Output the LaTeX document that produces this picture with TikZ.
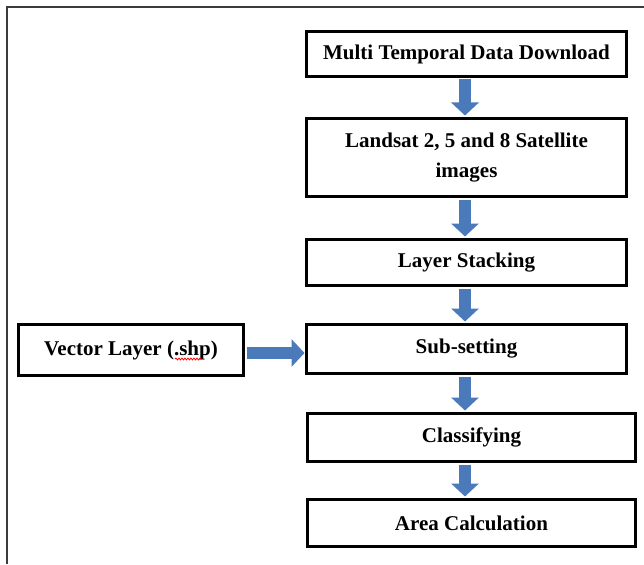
\documentclass[tikz,border=0pt]{standalone}
\usepackage{fontspec}
\setmainfont{Liberation Serif}
\usetikzlibrary{arrows.meta,decorations.pathmorphing}
\definecolor{arrowblue}{RGB}{74,122,186}
\definecolor{framegray}{RGB}{60,60,60}
\tikzset{
  stepbox/.style={draw=black, line width=3.8pt, fill=white, outer sep=0pt,
    inner sep=2pt, align=center, font=\fontsize{21pt}{30pt}\selectfont\bfseries},
  flowarrow/.style={draw=arrowblue, line width=12pt,
    -{Triangle[width=27pt,length=13pt]}},
}
\begin{document}
\begin{tikzpicture}[x=1pt,y=-1pt]
\useasboundingbox (0,0) rectangle (644,564);
\fill[white] (0,0) rectangle (644,564);
\draw[framegray, line width=1.4pt] (7,564) -- (7,7) -- (644,7);

\node[stepbox, minimum width=320pt, minimum height=45pt] (b1) at (466.5,54) {Multi Temporal Data Download};
\node[stepbox, minimum width=320pt, minimum height=78pt] (b2) at (466.5,157.5) {Landsat 2, 5 and 8 Satellite\\images};
\node[stepbox, minimum width=320pt, minimum height=46pt] (b3) at (466.5,262.5) {Layer Stacking};
\node[stepbox, minimum width=320pt, minimum height=49pt] (b4) at (466.5,349) {Sub-setting};
\node[stepbox, minimum width=328pt, minimum height=48pt] (b5) at (471.5,437.5) {Classifying};
\node[stepbox, minimum width=328pt, minimum height=47pt] (b6) at (471.5,523) {Area Calculation};
\node[stepbox, minimum width=225pt, minimum height=51pt] (v) at (131,350) {Vector Layer (.shp)};

\coordinate (ax) at (465,0);
\coordinate (ay) at (0,353);

\draw[flowarrow, shorten <=3pt, shorten >=3pt] (b1.south -| ax) -- (b2.north -| ax);
\draw[flowarrow, shorten <=3pt, shorten >=3pt] (b2.south -| ax) -- (b3.north -| ax);
\draw[flowarrow, shorten <=3pt, shorten >=3pt] (b3.south -| ax) -- (b4.north -| ax);
\draw[flowarrow, shorten <=3pt, shorten >=3pt] (b4.south -| ax) -- (b5.north -| ax);
\draw[flowarrow, shorten <=3pt, shorten >=3pt] (b5.south -| ax) -- (b6.north -| ax);
\draw[flowarrow, shorten <=3pt, shorten >=2pt] (v.east |- ay) -- (b4.west |- ay);

\draw[red, line width=0.8pt, decorate, decoration={snake, amplitude=0.9pt, segment length=3pt}]
  ([xshift=44pt, yshift=-4pt]v.base) -- ([xshift=71pt, yshift=-4pt]v.base);
\end{tikzpicture}
\end{document}
